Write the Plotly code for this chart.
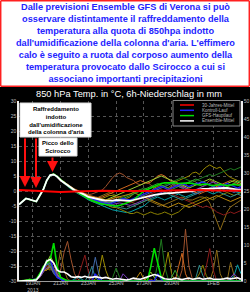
import plotly.graph_objects as go
import pandas as pd

# ---------------- data ----------------
TIMES = pd.date_range('2013-01-18 00:00', periods=65, freq='6h')
CLIM_TIMES = pd.date_range('2013-01-18 00:00', periods=17, freq='24h')

X_TICKS = ['2013-01-19', '2013-01-21', '2013-01-23', '2013-01-25', '2013-01-27', '2013-01-29', '2013-02-01']
X_TICK_TEXT = ['19JAN<br>2013', '21JAN', '23JAN', '25JAN', '27JAN', '29JAN', '1FEB']
T_TICKS = [30, 25, 20, 15, 10, 5, 0, -5, -10, -15, -20, -25, -30]
P_TICKS = [50, 45, 40, 35, 30, 25, 20, 15, 10, 5, 0]

CLIM = [0.3, 0.1, -0.2, -0.3, -0.2, 0.0, 0.1, 0.0, 0.0, -0.1, 0.0, 0.2, 0.3, 0.3, 0.2, 0.1, 0.1]
TEMP_START = [-4.5, -3.5, -2.5, -2.8, -3.2, -3.5, -1.5, 0.5, 3.5, 5.3]

MEAN_T = [5.5, 4.8, 3.6, 2.7, 1.8, 1.0, 0.3, -0.2, -0.7, -1.3,
          -2.0, -2.3, -2.6, -2.8, -3.0, -3.2, -3.3, -3.2, -3.0, -3.1,
          -3.2, -3.3, -3.3, -3.0, -2.7, -2.3, -2.0, -1.7, -1.5, -1.3,
          -1.1, -0.9, -0.7, -0.7, -0.7, -0.6, -0.5, -0.5, -0.3, -0.2,
          0.0, 0.3, 0.6, 0.7, 0.7, 0.8, 0.7, 0.8, 0.9, 1.0,
          1.0, 0.8, 0.6, 0.4, 0.3]
CTRL_T = [5.5, 4.8, 3.7, 2.7, 1.8, 1.0, 0.3, -0.3, -0.8, -1.4,
          -2.0, -2.5, -3.0, -3.5, -4.0, -4.2, -4.5, -4.0, -3.5, -3.0,
          -2.5, -2.8, -3.0, -2.5, -2.0, -1.5, -1.0, -0.5, 0.0, 0.5,
          1.0, 1.5, 1.0, 0.5, 1.0, 1.5, 2.0, 2.5, 2.0, 1.5,
          2.0, 2.5, 2.7, 3.0, 2.5, 2.0, 1.5, 1.0, 1.5, 2.0,
          2.5, 2.0, 1.5, 1.0, 1.5]
OPER_T = [5.6, 4.9, 3.8, 2.8, 1.9, 1.0, 0.2, -0.5, -1.2, -1.9,
          -2.6, -3.2, -3.6, -4.0, -4.3, -4.5, -4.6, -4.8, -5.0, -4.8,
          -4.5, -4.0, -3.5, -3.0, -2.0, -1.0, 0.0, 0.5, 1.0, 1.5,
          2.0, 2.5, 2.7, 2.7, 2.8, 2.7, 2.5, 2.6, 2.8, 2.7,
          2.5, 2.2, 2.0, 2.2, 2.3, 2.0, 1.8, 2.0, 2.2, 2.0,
          1.8, 2.0, 2.2, 2.0, 2.0]

M01_T = [5.6, 4.9, 3.8, 2.9, 2.0, 1.2, 0.5, 0.0, -0.4, -0.8,
         -1.2, -1.0, -0.5, 0.0, 0.3, 1.5, 3.0, 4.5, 5.5, 6.0,
         5.5, 4.5, 4.0, 3.5, 2.5, 2.0, 2.5, 3.0, 2.0, 1.0,
         0.5, 0.0, -0.5, 0.5, 1.5, 2.0, 1.5, 1.0, 2.0, 3.0,
         3.5, 3.0, 2.0, 1.5, 2.5, 3.5, 3.0, 2.0, 1.0, 0.5,
         1.0, 2.0, 2.5, 2.0, 1.5]
M02_T = [5.4, 4.6, 3.4, 2.4, 1.4, 0.6, -0.2, -0.8, -1.5, -2.2,
         -3.0, -3.5, -4.0, -4.5, -5.0, -5.5, -6.0, -6.3, -6.5, -6.8,
         -7.0, -7.2, -7.0, -6.5, -6.0, -5.5, -5.0, -4.0, -3.0, -2.5,
         -2.0, -2.5, -3.0, -2.5, -2.0, -1.5, -1.0, -1.5, -2.0, -1.5,
         -1.0, -0.5, 0.0, 0.5, 0.0, -0.5, -1.0, -0.5, 0.0, 0.5,
         1.0, 0.5, 0.0, -0.5, -0.5]
M03_T = [5.5, 4.8, 3.7, 2.8, 1.9, 1.1, 0.4, -0.2, -0.8, -1.4,
         -2.0, -2.5, -3.0, -3.0, -2.5, -2.0, -1.5, -1.5, -2.0, -2.5,
         -3.0, -2.5, -2.0, -1.0, 0.0, 0.5, 0.0, -0.5, 0.0, 1.0,
         1.5, 2.0, 1.5, 1.0, 2.0, 3.0, 3.5, 4.0, 4.5, 5.0,
         6.0, 6.3, 5.5, 7.0, 8.0, 8.7, 8.0, 7.5, 8.0, 6.5,
         5.3, 4.5, 4.0, 3.5, 3.0]
M04_T = [5.4, 4.7, 3.5, 2.6, 1.7, 0.9, 0.2, -0.4, -1.0, -1.6,
         -2.2, -2.8, -3.2, -3.6, -4.0, -4.5, -5.0, -5.5, -5.5, -6.0,
         -6.5, -7.0, -7.5, -7.5, -7.0, -7.5, -8.0, -7.5, -7.0, -7.5,
         -7.8, -7.5, -7.0, -7.5, -8.0, -7.5, -7.0, -6.0, -5.0, -4.5,
         -4.0, -3.5, -3.0, -2.5, -2.0, -2.5, -3.0, -2.0, -1.5, -1.0,
         -0.5, -1.0, -1.5, -1.0, -0.5]
M05_T = [5.6, 5.0, 3.9, 3.0, 2.1, 1.3, 0.6, 0.0, -0.5, -1.0,
         -1.5, -2.0, -2.5, -2.0, -1.5, -1.0, -0.5, -1.0, -1.5, -2.0,
         -2.5, -3.0, -3.5, -4.0, -4.5, -4.0, -3.5, -3.0, -3.5, -4.0,
         -4.5, -5.0, -4.5, -4.0, -3.5, -3.0, -2.5, -2.0, -2.5, -3.0,
         -3.0, -2.5, -2.0, -2.0, -2.5, -4.0, -7.0, -10.0, -13.0, -10.0,
         -7.0, -5.3, -4.5, -3.5, -3.0]
M06_T = [5.3, 4.5, 3.3, 2.4, 1.5, 0.7, 0.0, -0.6, -1.2, -1.8,
         -2.4, -2.8, -3.0, -3.5, -3.8, -3.5, -3.0, -2.5, -2.0, -2.5,
         -3.0, -3.5, -4.0, -3.5, -3.0, -2.5, -2.0, -1.5, -1.0, -0.5,
         0.0, 0.5, 0.0, -0.5, -1.0, -1.5, -2.0, -2.5, -3.0, -3.5,
         -4.0, -4.5, -5.0, -5.5, -5.0, -5.5, -6.0, -7.0, -7.5, -8.0,
         -7.5, -7.0, -7.5, -7.0, -6.5]
M07_T = [5.5, 4.9, 3.8, 2.9, 2.0, 1.2, 0.5, -0.1, -0.6, -1.2,
         -1.8, -2.3, -2.8, -3.2, -3.5, -3.8, -4.0, -3.5, -3.0, -2.5,
         -2.0, -1.5, -1.0, -0.5, 0.0, 0.5, 1.0, 0.5, 0.0, 0.5,
         1.0, 1.5, 2.0, 2.5, 3.0, 3.5, 4.0, 4.5, 4.0, 3.5,
         3.0, 3.5, 4.0, 4.5, 5.0, 5.5, 5.0, 5.5, 6.0, 6.5,
         7.0, 7.5, 7.0, 7.5, 8.0]
M08_T = [5.7, 5.0, 3.9, 3.0, 2.2, 1.4, 0.7, 0.1, -0.4, -0.9,
         -1.4, -1.8, -2.0, -2.2, -2.0, -1.5, -1.0, -0.5, 0.0, 0.5,
         1.0, 1.5, 2.0, 2.5, 3.0, 3.5, 3.0, 2.5, 3.0, 4.0,
         5.0, 5.5, 5.0, 4.0, 3.0, 2.5, 2.0, 1.5, 1.0, 0.5,
         0.0, -0.5, -1.0, -0.5, 0.0, 0.5, 1.0, 1.5, 2.0, 2.5,
         3.0, 3.5, 3.0, 2.5, 2.0]
M09_T = [5.4, 4.7, 3.5, 2.5, 1.6, 0.8, 0.1, -0.5, -1.1, -1.7,
         -2.3, -2.9, -3.4, -3.8, -4.2, -4.5, -4.8, -5.0, -5.2, -5.5,
         -5.8, -6.0, -5.5, -5.0, -4.5, -4.0, -3.5, -3.0, -2.5, -2.0,
         -1.5, -1.0, -0.5, -1.0, -1.5, -2.0, -2.5, -3.0, -2.5, -2.0,
         -1.5, -1.0, -0.5, 0.0, 0.5, 1.0, 0.5, 0.0, -0.5, -1.0,
         -1.5, -2.0, -1.5, -1.0, -1.5]
M10_T = [5.6, 4.9, 3.7, 2.8, 1.9, 1.1, 0.4, -0.2, -0.8, -1.4,
         -2.0, -2.4, -2.8, -3.0, -3.2, -3.0, -2.5, -2.0, -1.5, -1.0,
         -0.5, 0.0, 0.5, 1.0, 1.5, 2.0, 2.5, 3.0, 3.5, 4.0,
         4.5, 5.0, 4.5, 4.0, 3.5, 3.0, 2.5, 2.0, 1.5, 1.0,
         1.5, 2.0, 2.5, 3.0, 3.5, 4.0, 3.5, 3.0, 2.5, 2.0,
         2.5, 3.0, 3.5, 3.0, 2.5]
M11_T = [5.5, 4.8, 3.6, 2.7, 1.8, 1.0, 0.3, -0.3, -0.9, -1.5,
         -2.1, -2.6, -3.0, -3.3, -3.6, -4.0, -4.3, -4.5, -4.2, -4.0,
         -4.2, -4.5, -4.8, -4.5, -4.0, -3.5, -3.0, -2.5, -2.0, -1.5,
         -1.0, -0.5, 0.0, 0.5, 1.0, 1.5, 2.0, 1.5, 1.0, 0.5,
         0.0, 0.5, 1.0, 1.5, 2.0, 2.5, 3.0, 2.5, 2.0, 1.5,
         1.0, 0.5, 0.0, 0.5, 1.0]
M12_T = [5.5, 4.8, 3.7, 2.8, 1.9, 1.1, 0.4, -0.1, -0.6, -1.1,
         -1.6, -2.0, -2.2, -2.5, -2.8, -3.0, -2.8, -2.5, -2.2, -2.0,
         -1.8, -1.5, -1.0, -0.5, -1.0, -1.5, -2.0, -2.5, -3.0, -3.5,
         -4.0, -4.5, -5.0, -5.5, -5.0, -4.5, -4.0, -4.5, -5.0, -5.5,
         -5.0, -4.5, -4.0, -3.5, -3.0, -2.5, -2.0, -1.5, -2.0, -2.5,
         -3.0, -3.5, -3.0, -2.5, -2.0]
M13_T = [5.4, 4.6, 3.4, 2.5, 1.6, 0.8, 0.1, -0.6, -1.3, -2.0,
         -2.8, -3.4, -3.8, -4.2, -4.5, -4.2, -3.8, -3.5, -3.0, -2.8,
         -2.5, -2.0, -1.5, -1.0, -0.5, 0.0, 0.5, 1.0, 1.5, 2.0,
         2.5, 2.0, 1.5, 1.0, 0.5, 1.0, 1.5, 2.0, 2.5, 3.0,
         3.5, 4.0, 3.5, 3.0, 2.5, 2.0, 1.5, 1.0, 0.5, 1.0,
         1.5, 2.0, 2.5, 3.0, 3.5]
M14_T = [5.5, 4.7, 3.6, 2.6, 1.7, 0.9, 0.2, -0.4, -1.0, -1.6,
         -2.2, -2.6, -3.0, -3.3, -3.5, -3.8, -4.0, -3.8, -3.5, -3.3,
         -3.0, -3.2, -3.5, -3.0, -2.5, -2.0, -1.5, -1.0, -0.5, 0.0,
         0.5, 1.0, 1.5, 2.0, 2.5, 2.0, 1.5, 1.0, 0.5, 0.0,
         -0.5, -1.0, -0.5, 0.0, 0.5, 1.0, 1.5, 2.0, 1.5, 1.0,
         0.5, 0.0, -0.5, 0.0, 0.5]

MEAN_P = [0, 0, 0.1, 0.2, 0.2, 0.3, 1.5, 3.5, 5.5, 6.0, 5.0, 3.0, 2.5,
          2.5, 2.0, 1.2, 1.0, 1.2, 1.0, 1.3, 1.0, 1.0, 1.2, 1.0, 0.8, 1.0,
          0.7, 0.5, 0.7, 0.5, 0.3, 0.3, 0.5, 0.8, 0.6, 0.5, 0.8, 1.2, 1.5,
          1.8, 1.5, 1.0, 0.6, 0.5, 0.5, 0.8, 0.5, 0.4, 0.6, 0.8, 0.5, 0.6,
          0.8, 0.5, 0.6, 0.8, 0.5, 0.4, 0.5, 0.6, 0.8, 0.6, 0.7, 0.9, 0.5]
CTRL_P = [0, 0, 0.1, 0.3, 0.3, 0.5, 1.5, 3.0, 5.0, 6.0, 3.0, 1.0, 0.5,
          0, 0, 0, 0, 0, 0, 0, 0, 0, 2.0, 0.5, 0, 0,
          0, 0, 0, 0, 0, 0, 0, 0, 0, 0, 0, 0, 0,
          0, 2.0, 0.5, 0, 0, 0, 0, 0, 0, 0, 0, 0, 0,
          0, 0, 0, 0, 0, 0, 0, 0, 0, 0, 0, 0, 0]
OPER_P = [0, 0, 0.2, 0.4, 0.3, 0.5, 2.0, 4.0, 5.0, 6.0, 10.5, 4.0, 1.0,
          0.5, 0, 0, 0, 0, 0, 0, 0, 0, 0, 0, 0, 0,
          0, 0, 0, 0, 0, 0, 0, 0, 0, 0, 0, 0, 4.0,
          9.1, 5.0, 1.0, 0, 0, 0, 0, 0, 0, 0, 0, 0, 0,
          0, 0, 0, 0, 0, 0, 0, 0, 0, 0, 0, 0, 0]
M01_P = [0, 0, 0, 0.3, 0.2, 0.4, 1.0, 2.5, 4.5, 5.0, 3.0, 1.5, 3.0,
         8.0, 11.0, 6.0, 2.0, 0.5, 0, 0, 0, 0, 0, 0.3, 0, 0,
         0, 0, 0, 0, 0, 0, 0, 0, 0, 0, 0, 0, 0.5,
         0, 0, 0, 0, 0, 0, 0, 0, 3.0, 14.4, 4.0, 0.5, 0,
         0, 0, 0, 0, 0, 0, 0, 0, 0, 0, 0, 0, 0]
M02_P = [0, 0, 0, 0.2, 0.3, 0.5, 2.0, 3.0, 3.5, 4.0, 2.5, 1.0, 0.5,
         0.3, 0, 0, 0.5, 1.0, 0.5, 0, 0, 0, 0, 0, 0, 0,
         0, 0, 0, 0, 0, 0, 0, 0, 0, 0, 0, 0, 0,
         0, 0, 0, 0, 0, 0, 0, 0, 0, 0, 0, 0, 0,
         0, 0, 0, 0, 0, 0, 0, 0, 0, 0.5, 1.5, 4.5, 2.0]
M03_P = [0, 0, 0.2, 0.3, 0.2, 0.5, 1.5, 3.0, 3.0, 5.0, 3.5, 1.5, 0.5,
         0, 0, 0, 0, 0, 0, 0, 0, 0, 0.5, 2.0, 7.2, 3.0,
         0.5, 0, 0, 0, 0, 0, 0, 0, 0, 0, 0, 0, 0,
         0, 0, 0, 3.0, 8.0, 2.0, 0, 0, 0, 0, 0, 0, 0,
         0, 0, 0, 0, 0, 0, 0, 0, 0, 0, 0, 0, 0]
M04_P = [0, 0, 0, 0.2, 0.3, 0.3, 1.0, 2.5, 3.5, 3.0, 4.0, 3.0, 1.0,
         0.5, 0, 0, 0, 0, 0, 0, 0, 0, 0, 0, 0, 0,
         0, 0, 0, 0, 0, 0, 0, 0, 0, 0, 0, 0, 0,
         0, 0, 0, 0, 0, 0, 0, 0, 0, 0, 0, 0, 0.5,
         2.0, 4.4, 1.5, 0, 0, 0, 0, 0, 0, 0, 0, 0, 0]
M05_P = [0, 0, 0.1, 0.3, 0.2, 0.5, 1.5, 3.0, 4.0, 3.5, 2.5, 3.0, 8.6,
         3.0, 0.5, 0, 0, 0, 0, 0, 0, 0, 0, 0, 0, 0,
         0, 0, 0, 0, 0, 0, 0, 0, 0, 0, 0, 0, 0,
         0, 0, 0, 0, 0, 0, 0, 0, 0, 0, 0, 0, 0,
         0, 0, 0, 0, 3.0, 8.6, 2.0, 0, 0, 5.2, 1.5, 0, 0]
M06_P = [0, 0, 0, 0.2, 0.3, 0.5, 1.5, 3.0, 4.0, 6.0, 3.0, 1.0, 0.5,
         0, 0, 0, 0, 1.0, 4.0, 7.2, 2.5, 0, 0, 0, 0, 0,
         0, 0, 0, 0, 0, 0, 0, 0, 0, 0, 0, 0, 0,
         0, 0, 0, 0, 0, 0, 0, 0, 0, 0, 0, 0, 0,
         0, 0, 4.0, 9.0, 3.0, 0, 0, 0, 0, 0, 0, 0, 0]
M07_P = [0, 0, 0.2, 0.3, 0.3, 0.5, 2.0, 4.0, 5.0, 4.5, 3.0, 1.5, 0.5,
         0, 0, 0, 0, 0, 0, 0, 0, 0, 0, 0, 0, 0,
         0, 1.0, 3.6, 1.0, 0, 0, 0, 0, 0, 0, 0, 0, 0,
         0, 5.0, 11.6, 4.0, 0.5, 0, 0, 0, 0, 0, 0, 0, 0,
         0, 0, 0, 0, 0, 0, 0, 0, 0, 0, 0, 0, 0]
M08_P = [0, 0, 0, 0.3, 0.2, 0.4, 1.2, 3.0, 5.0, 4.0, 3.0, 1.5, 1.0,
         0.5, 0, 0, 0, 0, 0, 0, 0, 0, 0, 0, 0, 0,
         0, 0, 0, 0, 0, 0, 0, 0, 0, 0, 0, 0, 0,
         0, 0, 0, 0, 0, 0, 0, 4.0, 7.7, 2.0, 0, 0, 0,
         0, 0, 0, 0, 0, 0, 0, 0, 0, 0, 0, 0, 0]
M09_P = [0, 0, 0.1, 0.2, 0.2, 0.4, 1.5, 3.5, 4.5, 5.0, 3.0, 1.0, 0.5,
         0, 0, 0, 0, 0, 0, 0, 1.5, 3.9, 1.0, 0, 0, 0,
         0, 0, 0, 0, 0, 0, 0, 0, 0, 0, 0, 0, 0,
         0, 0, 0, 0, 0, 0, 0, 0, 0, 0, 0, 0, 1.0,
         4.4, 1.5, 0, 0, 0, 0, 0, 0, 0, 0, 0, 0, 0]
M10_P = [0, 0, 0.2, 0.3, 0.3, 0.5, 2.0, 4.0, 5.0, 7.0, 5.0, 2.0, 0.5,
         0, 0, 0, 0, 0, 0, 0, 0, 0, 0, 0, 0, 0,
         0, 0, 0, 0, 0, 0, 0, 0, 0, 0, 0, 1.0, 2.5,
         1.0, 0, 0, 0, 0, 0, 0, 0, 0, 0, 0, 0, 0,
         0, 0, 0, 0, 0, 0, 0, 0, 0, 0, 0, 0, 0]
M11_P = [0, 0, 0, 0.2, 0.2, 0.3, 1.0, 2.5, 3.5, 4.0, 5.0, 2.0, 0.5,
         0, 0, 0, 0, 0, 0, 0, 0, 0, 0, 0, 0, 0,
         0, 0, 0, 0, 2.0, 1.0, 0, 0, 0, 0, 0, 0, 0,
         0, 0, 0, 0, 0, 0, 0, 0, 0, 0, 0, 0, 0,
         0, 0, 0, 0, 0, 0, 0, 0, 0, 1.0, 2.0, 1.0, 0]
M12_P = [0, 0, 0.2, 0.5, 0.3, 0.5, 2.0, 3.0, 3.0, 4.0, 2.5, 1.0, 0.5,
         0, 0, 0, 0, 0, 0, 0, 0, 0, 0, 0, 0, 0,
         0, 0, 0, 0, 0, 0, 0, 0, 1.0, 2.5, 0.5, 0, 0,
         0, 0, 0, 0, 0, 0, 0, 0, 0, 0, 0, 0, 0,
         0, 0, 0, 0, 0, 0, 0, 0, 0, 0, 0, 0, 0]
M13_P = [0, 0, 0.1, 0.3, 0.3, 0.5, 1.5, 3.5, 6.0, 5.0, 3.0, 1.0, 0.5,
         0, 0, 0, 0, 0, 0, 0, 0, 0, 0, 0, 0, 0,
         0, 0, 0, 0, 0, 0, 0, 0, 0, 0, 0, 0, 0,
         0, 0, 0, 0, 0, 1.0, 3.0, 1.0, 0, 0, 0, 0, 0,
         0, 0, 0, 0, 0, 0, 0, 0, 0, 0, 0, 0, 0]
M14_P = [0, 0, 0, 0.3, 0.2, 0.5, 1.5, 3.0, 5.0, 4.0, 2.0, 1.0, 0.5,
         0, 0, 0, 0, 0, 0, 0, 0, 1.5, 6.6, 2.0, 0, 0,
         0, 0, 0, 0, 0, 0, 0, 0, 0, 0, 0, 0, 0,
         0, 0, 0, 0, 0, 0, 0, 0, 0, 0, 0, 0, 0,
         0, 0, 0, 0, 0, 0, 0, 0, 0, 0, 0, 0, 0]

MEMBERS = [
    ('#a0522d', M01_T, M01_P), ('#00a0a8', M02_T, M02_P), ('#9a8a00', M03_T, M03_P),
    ('#8b8000', M04_T, M04_P), ('#8b6914', M05_T, M05_P), ('#8b1a1a', M06_T, M06_P),
    ('#1f7a1f', M07_T, M07_P), ('#d2691e', M08_T, M08_P), ('#2e8b8b', M09_T, M09_P),
    ('#9acd32', M10_T, M10_P), ('#7b3fbf', M11_T, M11_P), ('#b8860b', M12_T, M12_P),
    ('#32a032', M13_T, M13_P), ('#4169aa', M14_T, M14_P),
]

LEGEND = [('#ff0000', '30-Jahres-Mittel'), ('#2020ff', 'Kontroll-Lauf'),
          ('#00e000', 'GFS-Hauptlauf'), ('#ffffff', 'Ensemble-Mittel')]

HEADLINE = ["Dalle previsioni Ensemble GFS di Verona si può",
            "osservare distintamente il raffreddamento della",
            "temperatura alla quota di 850hpa indotto",
            "dall'umidificazione della colonna d'aria. L'effimero",
            "calo è seguito a ruota dal corposo aumento della",
            "temperatura provocato dallo Scirocco a cui si",
            "associano importanti precipitazioni"]

# ---------------- figure ----------------
W, H = 250, 292
L, R, T, B = 19, 9, 101, 11
PW, PH = W - L - R, H - T - B


def px(x):
    return (x - L) / PW


def py(y):
    return (H - B - y) / PH


fig = go.Figure()


def line(x, y, color, width, axis):
    fig.add_trace(go.Scatter(x=x, y=y, mode='lines', yaxis=axis,
                             line=dict(color=color, width=width),
                             showlegend=False, hoverinfo='skip'))


for color, tail, prec in MEMBERS:
    line(TIMES, TEMP_START + tail, color, 1, 'y')
for color, tail, prec in MEMBERS:
    line(TIMES, prec, color, 1, 'y2')
line(TIMES, CTRL_P, '#2020ff', 1.3, 'y2')
line(TIMES, OPER_P, '#00e000', 1.6, 'y2')
line(TIMES, MEAN_P, '#ffffff', 1.6, 'y2')
line(TIMES, TEMP_START + CTRL_T, '#2020ff', 1.3, 'y')
line(TIMES, TEMP_START + OPER_T, '#00e000', 1.6, 'y')
line(TIMES, TEMP_START + MEAN_T, '#ffffff', 1.8, 'y')
line(CLIM_TIMES, CLIM, '#ff0000', 2, 'y')

shapes = []
annots = []

# headline panel: white fill, red frame
shapes.append(dict(type='rect', xref='paper', yref='paper', x0=px(0), x1=px(250),
                   y0=py(87), y1=py(0), line=dict(width=0),
                   fillcolor='white', layer='below'))
for (x0, y0, x1, y1) in [(0.7, 0.7, 249.3, 0.7), (0.7, 86.3, 249.3, 86.3),
                         (0.7, 0.7, 0.7, 86.3), (249.3, 0.7, 249.3, 86.3)]:
    shapes.append(dict(type='line', xref='paper', yref='paper', x0=px(x0), x1=px(x1),
                       y0=py(y0), y1=py(y1), line=dict(color='#ff2020', width=1.5),
                       layer='below'))
annots.append(dict(xref='paper', yref='paper', x=px(125), y=py(42.5), showarrow=False,
                   xanchor='center', yanchor='middle', align='center',
                   text='<b>' + '<br>'.join(HEADLINE) + '</b>',
                   font=dict(family='Liberation Sans', size=9.2, color='#2424ff')))

# chart title
annots.append(dict(xref='paper', yref='paper', x=px(128.5), y=py(94.5), showarrow=False,
                   xanchor='center', yanchor='middle',
                   text='850 hPa Temp. in °C, 6h-Niederschlag in mm',
                   font=dict(family='Liberation Sans', size=9.3, color='white')))

# legend box
shapes.append(dict(type='rect', xref='paper', yref='paper', x0=px(173), x1=px(240),
                   y0=py(126), y1=py(100.5), line=dict(color='#888888', width=1),
                   fillcolor='black', layer='above'))
for k, (c, lab) in enumerate(LEGEND):
    yy = 105 + k * 5.3
    shapes.append(dict(type='line', xref='paper', yref='paper', x0=px(180), x1=px(194),
                       y0=py(yy), y1=py(yy), line=dict(color=c, width=1.5), layer='above'))
    annots.append(dict(xref='paper', yref='paper', x=px(200), y=py(yy), showarrow=False,
                       xanchor='left', yanchor='middle', text=lab,
                       font=dict(family='Liberation Sans', size=4.5, color='#bbbbbb')))

# annotation boxes
shapes.append(dict(type='rect', xref='paper', yref='paper', x0=px(20), x1=px(91),
                   y0=py(137), y1=py(103), line=dict(color='#dddddd', width=1),
                   fillcolor='white', layer='above'))
annots.append(dict(xref='paper', yref='paper', x=px(55.5), y=py(120.5), showarrow=False,
                   xanchor='center', yanchor='middle', align='center',
                   text="<b>Raffreddamento<br>indotto<br>dall'umidificazione<br>della colonna d'aria</b>",
                   font=dict(family='Liberation Sans', size=6, color='black')))
shapes.append(dict(type='rect', xref='paper', yref='paper', x0=px(39), x1=px(77),
                   y0=py(156), y1=py(138), line=dict(color='#dddddd', width=1),
                   fillcolor='white', layer='above'))
annots.append(dict(xref='paper', yref='paper', x=px(58), y=py(147), showarrow=False,
                   xanchor='center', yanchor='middle', align='center',
                   text="<b>Picco dello<br>Scirocco</b>",
                   font=dict(family='Liberation Sans', size=6, color='black')))

# red arrows
for xa, y_tail, y_tip in [(25, 137, 187), (36, 137, 188), (52.5, 156, 172)]:
    annots.append(dict(xref='paper', yref='paper', x=px(xa), y=py(y_tip), ax=0,
                       ay=-(y_tip - y_tail), text='', showarrow=True, arrowhead=2,
                       arrowsize=1.1, arrowwidth=2, arrowcolor='#ff1010'))

fig.update_layout(
    width=W, height=H, margin=dict(l=L, r=R, t=T, b=B, pad=0),
    paper_bgcolor='black', plot_bgcolor='black', showlegend=False,
    shapes=shapes, annotations=annots,
    xaxis=dict(range=['2013-01-18 00:00', '2013-02-03 00:00'], tickvals=X_TICKS,
               ticktext=X_TICK_TEXT, tickfont=dict(family='Liberation Sans', size=5, color='#bbbbbb'),
               showgrid=True, gridcolor='#555555', griddash='dot', gridwidth=1,
               showline=True, linecolor='#999999', linewidth=1, zeroline=False,
               ticks='', automargin=False, tickangle=0, ticklabelstandoff=-3),
    yaxis=dict(range=[-30, 30], tickvals=T_TICKS, ticktext=[str(v) for v in T_TICKS],
               tickfont=dict(family='Liberation Sans', size=5, color='#bbbbbb'),
               showgrid=True, gridcolor='#555555', griddash='dot', gridwidth=1,
               showline=True, linecolor='#eeeeee', linewidth=1.5, zeroline=False,
               ticks='', automargin=False),
    yaxis2=dict(range=[0, 50], tickvals=P_TICKS, ticktext=[str(v) for v in P_TICKS],
                overlaying='y', side='right', showgrid=False,
                tickfont=dict(family='Liberation Sans', size=5, color='#bbbbbb'),
                showline=True, linecolor='#eeeeee', linewidth=1.5, zeroline=False,
                ticks='', automargin=False),
)

fig.write_html('out.html')
